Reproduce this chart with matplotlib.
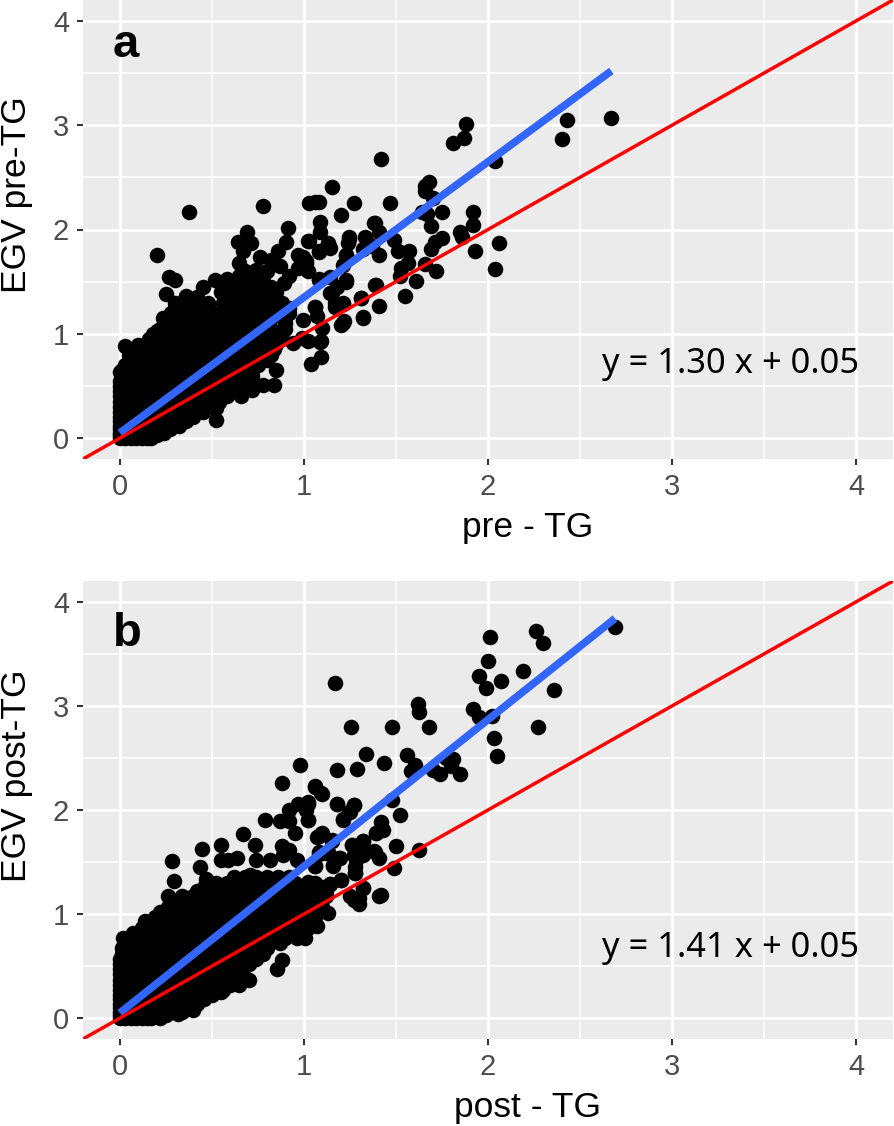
import matplotlib
matplotlib.use("Agg")
import matplotlib.pyplot as plt

plt.rcParams['font.family'] = ['Liberation Sans', 'DejaVu Sans']

ticks = [0, 1, 2, 3, 4]
minor_ticks = [0.5, 1.5, 2.5, 3.5]
ref_line = [-0.2, 4.2]

# panel a, single points
a_x = [2.67, 2.43, 2.40, 1.88, 1.87, 1.81, 2.04, 1.42, 1.68, 1.66, 1.66, 1.70, 1.15, 1.03, 1.06, 1.27, 1.47, 1.20,
       1.09, 1.09, 1.38, 1.41, 1.64, 1.67, 1.75, 1.69, 1.92, 1.92, 1.85, 1.86, 1.75, 1.71, 1.69, 2.06, 1.93, 2.04,
       1.72, 1.66, 1.245, 1.24, 1.33, 1.35, 1.32, 1.41, 1.49, 1.51, 1.57, 1.565, 1.53, 1.52, 1.61, 1.39, 1.55, 1.31,
       1.41, 1.32, 1.22, 1.20, 1.10, 1.09, 1.03, 1.08, 1.13, 1.14, 1.23, 1.21, 0.995, 1.01, 1.02, 1.08, 1.14, 1.23,
       1.18, 1.14, 1.17, 1.21, 1.06, 1.07, 0.995, 1.02,
       0.376, 0.78, 1.08, 0.916, 1.385, 0.20, 0.268, 0.30, 0.25, 0.36, 0.45, 0.516, 0.58, 0.69, 0.64, 0.715, 0.67,
       0.76, 0.905, 0.86, 0.82, 0.97, 1.02, 1.13, 1.08, 1.245, 1.23, 1.37, 1.01, 0.97, 0.87, 0.65, 0.74, 0.89, 0.92,
       1.08, 1.23, 1.385, 1.31, 1.32, 1.21, 1.17, 1.21, 1.15, 1.06, 1.095, 1.095, 1.04, 0.99, 0.94, 0.87, 0.85, 0.84,
       0.78, 0.72, 0.66, 0.52, 0.525, 0.027, 0.10, 0.0, 0.20, 0.235]
a_y = [3.07, 3.05, 2.87, 3.01, 2.88, 2.83, 2.66, 2.68, 2.46, 2.42, 2.37, 2.30, 2.41, 2.25, 2.26, 2.25, 2.25, 2.14,
       2.07, 1.98, 2.06, 1.98, 2.17, 2.15, 2.17, 2.03, 2.17, 2.04, 1.98, 1.93, 1.92, 1.88, 1.81, 1.87, 1.79, 1.62,
       1.60, 1.67, 1.93, 1.87, 1.93, 1.87, 1.81, 1.76, 1.90, 1.79, 1.79, 1.68, 1.63, 1.55, 1.51, 1.47, 1.36, 1.34,
       1.27, 1.15, 1.12, 1.08, 1.06, 0.92, 1.89, 1.78, 1.87, 1.82, 1.76, 1.66, 1.74, 1.68, 1.60, 1.53, 1.54, 1.50,
       1.45, 1.39, 1.30, 1.30, 1.26, 1.17, 1.13, 0.93,
       2.17, 2.23, 2.26, 2.01, 2.06, 1.76, 1.54, 1.52, 1.38, 1.36, 1.45, 1.52, 1.525, 1.98, 1.88, 1.87, 1.79,
       1.74, 1.88, 1.79, 1.71, 1.76, 1.89, 1.86, 1.79, 1.91, 1.76, 1.84, 1.70, 1.63, 1.65, 1.68, 1.615, 1.49, 1.55,
       1.52, 1.52, 1.47, 1.34, 1.16, 1.29, 1.26, 1.10, 1.39, 1.26, 0.93, 0.775, 0.71, 0.96, 0.91, 0.97, 0.65, 0.51,
       0.51, 0.46, 0.40, 0.17, 0.285, 0.88, 0.89, 0.63, 1.03, 1.15]

# panel a, the solid cloud near the origin, one list of x per y level
a_levels = [0.0, 0.05, 0.12, 0.2, 0.3, 0.4, 0.5, 0.6, 0.7, 0.8, 0.9, 1.0, 1.1, 1.2, 1.3, 1.4, 1.5, 1.6,
            0.03, 0.09, 0.16, 0.25, 0.35, 0.45, 0.55, 0.65, 0.75, 0.85, 0.95, 1.05, 1.15, 1.25, 1.35, 1.45, 1.55]
a_rows = [
    [0.0, 0.06, 0.12, 0.17, 0.03, 0.09, 0.15],
    [0.0, 0.06, 0.12, 0.18, 0.24],
    [0.0, 0.06, 0.12, 0.18, 0.24, 0.32],
    [0.0, 0.06, 0.12, 0.18, 0.24, 0.3, 0.35, 0.4],
    [0.0, 0.06, 0.12, 0.18, 0.24, 0.3, 0.36, 0.42, 0.5],
    [0.0, 0.06, 0.12, 0.18, 0.24, 0.3, 0.36, 0.42, 0.48, 0.53, 0.58],
    [0.0, 0.06, 0.12, 0.18, 0.24, 0.3, 0.36, 0.42, 0.48, 0.54, 0.6, 0.66],
    [0.01, 0.07, 0.13, 0.19, 0.25, 0.31, 0.37, 0.43, 0.49, 0.55, 0.61, 0.67, 0.72],
    [0.03, 0.09, 0.15, 0.21, 0.27, 0.33, 0.39, 0.45, 0.51, 0.57, 0.63, 0.69, 0.75],
    [0.05, 0.11, 0.17, 0.23, 0.29, 0.35, 0.41, 0.47, 0.53, 0.59, 0.65, 0.71, 0.77, 0.82],
    [0.14, 0.19, 0.25, 0.31, 0.37, 0.43, 0.49, 0.55, 0.61, 0.67, 0.73, 0.79, 0.85],
    [0.18, 0.24, 0.3, 0.36, 0.42, 0.48, 0.54, 0.6, 0.66, 0.72, 0.78, 0.84],
    [0.25, 0.31, 0.37, 0.43, 0.49, 0.55, 0.61, 0.67, 0.73, 0.8, 0.9],
    [0.28, 0.34, 0.4, 0.46, 0.54, 0.6, 0.66, 0.72, 0.78, 0.84, 0.92],
    [0.3, 0.36, 0.42, 0.48, 0.56, 0.62, 0.68, 0.74, 0.8, 0.88],
    [0.55, 0.61, 0.67, 0.73, 0.79, 0.85],
    [0.62, 0.68, 0.74, 0.78],
    [0.68, 0.74, 0.8],
    [0.0, 0.03, 0.09, 0.15, 0.2],
    [0.0, 0.03, 0.09, 0.15, 0.21, 0.27],
    [0.0, 0.03, 0.09, 0.15, 0.21, 0.27, 0.36],
    [0.0, 0.03, 0.09, 0.15, 0.21, 0.27, 0.33, 0.39, 0.45],
    [0.0, 0.03, 0.09, 0.15, 0.21, 0.27, 0.33, 0.39, 0.45, 0.51, 0.54],
    [0.0, 0.03, 0.09, 0.15, 0.21, 0.27, 0.33, 0.39, 0.45, 0.51, 0.57, 0.62],
    [0.0, 0.03, 0.09, 0.15, 0.21, 0.27, 0.33, 0.39, 0.45, 0.51, 0.57, 0.63, 0.7],
    [0.01, 0.04, 0.1, 0.16, 0.22, 0.28, 0.34, 0.4, 0.46, 0.52, 0.58, 0.64, 0.72],
    [0.06, 0.12, 0.18, 0.24, 0.3, 0.36, 0.42, 0.48, 0.54, 0.6, 0.66, 0.72, 0.8],
    [0.1, 0.16, 0.22, 0.28, 0.34, 0.4, 0.46, 0.52, 0.58, 0.64, 0.7, 0.76, 0.84],
    [0.16, 0.22, 0.28, 0.34, 0.4, 0.46, 0.52, 0.58, 0.64, 0.7, 0.76, 0.82, 0.88],
    [0.22, 0.28, 0.34, 0.4, 0.46, 0.52, 0.58, 0.64, 0.7, 0.76, 0.82, 0.9],
    [0.26, 0.32, 0.38, 0.44, 0.5, 0.56, 0.62, 0.68, 0.74, 0.82, 0.9],
    [0.3, 0.36, 0.42, 0.48, 0.58, 0.64, 0.7, 0.76, 0.82, 0.92],
    [0.36, 0.42, 0.6, 0.66, 0.72, 0.78, 0.84],
    [0.58, 0.64, 0.7, 0.76, 0.82],
    [0.65, 0.71, 0.78],
]
a_fit_x = [0.0, 2.67]
a_fit_y = [0.05, 3.52]

# panel b, single points
b_x = [2.69, 2.26, 2.30, 2.01, 2.0, 1.95, 2.07, 1.99, 2.19, 2.36, 1.92, 1.95, 2.02, 2.27, 2.03, 2.05, 1.17, 1.62,
       1.625, 1.68, 1.255, 1.48, 1.335, 1.29, 1.18, 1.435, 1.56, 1.605, 1.58, 1.70, 1.74, 1.77, 1.81, 1.80, 1.85,
       0.98, 1.06, 1.095, 1.02, 1.18, 1.27, 1.25, 1.21, 1.48, 1.52, 1.02, 1.01, 1.42, 1.43, 1.39, 1.095, 1.07, 1.15,
       1.32, 1.26, 1.50, 1.625, 1.38, 1.41, 1.32, 1.27, 1.12, 1.08, 1.19, 1.16, 1.06, 1.275, 1.275, 1.49, 1.20, 1.14,
       1.06, 1.02, 1.07, 1.32, 1.42, 1.25, 1.30,
       0.286, 0.445, 0.55, 0.67, 0.733, 0.55, 0.637, 0.59, 0.435, 0.47, 0.295, 0.74, 0.815, 0.79, 0.88, 1.06, 1.10,
       1.18, 1.27, 1.245, 1.21, 1.02, 0.97, 0.92, 1.02, 0.87, 0.92, 0.95, 1.08, 1.10, 1.15, 0.88, 0.92, 0.887, 0.96,
       1.08, 1.13, 1.06, 1.195, 1.16, 1.26, 1.32, 1.31, 1.385, 1.39, 1.285, 1.275, 1.20, 1.14, 1.32, 1.41, 1.27, 1.30,
       1.13, 1.07, 1.005, 0.85, 0.88, 0.856, 0.75, 0.70, 0.65, 0.55, 0.40, 0.315, 0.018, 0.10, 0.136, 0.235, 0.26,
       0.615, 0.706]
b_y = [3.76, 3.72, 3.60, 3.66, 3.43, 3.29, 3.24, 3.17, 3.34, 3.15, 2.97, 2.89, 2.90, 2.80, 2.69, 2.52, 3.22, 3.02,
       2.94, 2.80, 2.80, 2.80, 2.54, 2.39, 2.38, 2.45, 2.53, 2.43, 2.37, 2.38, 2.35, 2.50, 2.49, 2.42, 2.35,
       2.43, 2.22, 2.16, 2.08, 2.06, 2.05, 1.98, 1.91, 2.10, 1.95, 1.90, 2.0, 1.88, 1.81, 1.78, 1.77, 1.74, 1.70,
       1.70, 1.66, 1.65, 1.62, 1.61, 1.535, 1.57, 1.57, 1.59, 1.58, 1.535, 1.46, 1.46, 1.455, 1.39, 1.44, 1.33, 1.29,
       1.30, 1.31, 1.20, 1.25, 1.18, 1.17, 1.15,
       1.51, 1.63, 1.66, 1.77, 1.66, 1.52, 1.535, 1.52, 1.45, 1.34, 1.32, 1.52, 1.52, 1.90, 2.26, 2.23, 2.15,
       2.06, 2.05, 1.98, 1.90, 2.06, 2.06, 2.0, 1.90, 1.89, 1.89, 1.775, 1.75, 1.775, 1.71, 1.65, 1.615, 1.57, 1.52,
       1.60, 1.60, 1.46, 1.535, 1.47, 1.66, 1.70, 1.60, 1.60, 1.78, 1.52, 1.39, 1.33, 1.29, 1.25, 1.17, 1.14, 1.10,
       1.01, 0.89, 0.766, 0.78, 0.56, 0.477, 0.64, 0.365, 0.32, 0.25, 0.08, 0.04, 0.766, 0.766, 0.93, 1.02, 1.17,
       1.31, 1.375]

# panel b, the solid cloud near the origin
b_levels = [0.0, 0.06, 0.14, 0.22, 0.32, 0.42, 0.52, 0.62, 0.72, 0.82, 0.92, 1.02, 1.12, 1.22, 1.3,
            0.03, 0.1, 0.18, 0.27, 0.37, 0.47, 0.57, 0.67, 0.77, 0.87, 0.97, 1.07, 1.17, 1.26, 1.36]
b_rows = [
    [0.0, 0.06, 0.12, 0.17, 0.22, 0.03, 0.09, 0.15],
    [0.0, 0.06, 0.12, 0.18, 0.24, 0.29, 0.34],
    [0.0, 0.06, 0.12, 0.18, 0.24, 0.3, 0.36, 0.42],
    [0.0, 0.06, 0.12, 0.18, 0.24, 0.3, 0.36, 0.42, 0.5],
    [0.0, 0.06, 0.12, 0.18, 0.24, 0.3, 0.36, 0.42, 0.48, 0.54, 0.6],
    [0.0, 0.06, 0.12, 0.18, 0.24, 0.3, 0.36, 0.42, 0.48, 0.54, 0.6, 0.64],
    [0.0, 0.06, 0.12, 0.18, 0.24, 0.3, 0.36, 0.42, 0.48, 0.54, 0.6, 0.66, 0.7],
    [0.01, 0.07, 0.13, 0.19, 0.25, 0.31, 0.37, 0.43, 0.49, 0.55, 0.61, 0.67, 0.73, 0.78],
    [0.03, 0.09, 0.15, 0.21, 0.27, 0.33, 0.39, 0.45, 0.51, 0.57, 0.63, 0.69, 0.75, 0.81, 0.87],
    [0.07, 0.13, 0.19, 0.25, 0.31, 0.37, 0.43, 0.49, 0.55, 0.61, 0.67, 0.73, 0.79, 0.92, 0.98],
    [0.16, 0.22, 0.28, 0.34, 0.4, 0.46, 0.52, 0.58, 0.64, 0.7, 0.76, 0.82, 0.95, 1.03],
    [0.22, 0.28, 0.34, 0.4, 0.46, 0.52, 0.58, 0.64, 0.7, 0.76, 0.83, 0.97, 1.05],
    [0.3, 0.36, 0.42, 0.48, 0.54, 0.6, 0.66, 0.72, 0.78, 0.86, 0.94, 1.02, 1.08],
    [0.42, 0.48, 0.54, 0.6, 0.66, 0.72, 0.78, 0.84, 0.9, 0.98, 1.06, 1.12],
    [0.52, 0.58, 0.64, 0.7, 0.76, 0.82, 0.88, 0.95],
    [0.0, 0.03, 0.09, 0.15, 0.2, 0.25],
    [0.0, 0.03, 0.09, 0.15, 0.21, 0.27, 0.33, 0.38],
    [0.0, 0.03, 0.09, 0.15, 0.21, 0.27, 0.33, 0.39, 0.46],
    [0.0, 0.03, 0.09, 0.15, 0.21, 0.27, 0.33, 0.39, 0.45, 0.51, 0.56],
    [0.0, 0.03, 0.09, 0.15, 0.21, 0.27, 0.33, 0.39, 0.45, 0.51, 0.57, 0.62],
    [0.0, 0.03, 0.09, 0.15, 0.21, 0.27, 0.33, 0.39, 0.45, 0.51, 0.57, 0.63, 0.67],
    [0.0, 0.03, 0.09, 0.15, 0.21, 0.27, 0.33, 0.39, 0.45, 0.51, 0.57, 0.63, 0.69, 0.74],
    [0.01, 0.02, 0.08, 0.14, 0.2, 0.26, 0.32, 0.38, 0.44, 0.5, 0.56, 0.62, 0.68, 0.74, 0.8],
    [0.05, 0.11, 0.17, 0.23, 0.29, 0.35, 0.41, 0.47, 0.53, 0.59, 0.65, 0.71, 0.77, 0.84, 0.9, 0.96],
    [0.12, 0.18, 0.24, 0.3, 0.36, 0.42, 0.48, 0.54, 0.6, 0.66, 0.72, 0.78, 0.84, 0.9, 0.96, 1.02],
    [0.19, 0.25, 0.31, 0.37, 0.43, 0.49, 0.55, 0.61, 0.67, 0.73, 0.79, 0.85, 0.92, 1.0, 1.06],
    [0.26, 0.32, 0.38, 0.44, 0.5, 0.56, 0.62, 0.68, 0.74, 0.8, 0.9, 1.0, 1.1],
    [0.34, 0.4, 0.46, 0.52, 0.58, 0.64, 0.7, 0.76, 0.82, 0.88, 0.96, 1.04, 1.12],
    [0.46, 0.52, 0.58, 0.64, 0.7, 0.76, 0.82, 0.88, 0.94, 1.02, 1.1],
    [0.62, 0.68, 0.74, 0.8, 0.86, 0.92],
]
b_fit_x = [0.0, 2.69]
b_fit_y = [0.05, 3.84]

W, H = 895, 1126
fig = plt.figure(figsize=(W / 100, H / 100), dpi=100)


def panel(box, xs, ys, levels, rows, fit_x, fit_y, xlabel, ylabel, letter, eq, xlab_y, ylab_y, letter_y, eq_y):
    left, top, right, bottom = box
    ax = fig.add_axes([left / W, 1 - bottom / H, (right - left) / W, (bottom - top) / H])
    ax.set_facecolor('#EBEBEB')
    for s in ax.spines.values():
        s.set_visible(False)
    ax.set_xlim(-0.2, 4.2)
    ax.set_ylim(-0.2, 4.2)
    ax.set_xticks(ticks)
    ax.set_yticks(ticks)
    ax.set_xticks(minor_ticks, minor=True)
    ax.set_yticks(minor_ticks, minor=True)
    ax.grid(True, which='major', color='white', lw=2.2, zorder=1)
    ax.grid(True, which='minor', color='white', lw=1.1, zorder=1)
    ax.set_axisbelow(True)
    ax.tick_params(which='major', length=4, width=1.5, color='#333333', labelcolor='#4D4D4D',
                   labelsize=21, pad=6)
    ax.tick_params(which='minor', length=0)

    cloud_x = [x for row in rows for x in row]
    cloud_y = [lv for lv, row in zip(levels, rows) for x in row]
    ax.scatter(cloud_x + xs, cloud_y + ys, s=125, color='black', linewidths=0, zorder=3)
    ax.plot(fit_x, fit_y, color='#3366FF', lw=5.5, solid_capstyle='butt', zorder=4)
    ax.plot(ref_line, ref_line, color='#FF0000', lw=2.5, zorder=5)

    # axis titles sit off-centre in the original, so place them by pixel
    fig.text(528 / W, 1 - xlab_y / H, xlabel, fontsize=25.5, color='black', ha='center', va='center')
    fig.text(17 / W, 1 - ylab_y / H, ylabel, fontsize=25.5, color='black', ha='center', va='center',
             rotation=90)
    ax.text(-0.04, letter_y, letter, fontsize=34, fontweight='bold', color='black', ha='left', va='center',
            zorder=6)
    ax.text(2.62, eq_y, eq, fontsize=24.8, color='black', ha='left', va='center', zorder=6,
            family=['Noto Sans', 'DejaVu Sans'])
    return ax


panel((83, 0, 893, 459), a_x, a_y, a_levels, a_rows, a_fit_x, a_fit_y,
      'pre - TG', 'EGV pre-TG', 'a', 'y = 1.30 x + 0.05', 528, 195, 3.77, 0.71)
panel((83, 581, 893, 1039), b_x, b_y, b_levels, b_rows, b_fit_x, b_fit_y,
      'post - TG', 'EGV post-TG', 'b', 'y = 1.41 x + 0.05', 1107, 776, 3.69, 0.67)

fig.savefig('out.png', dpi=100)
